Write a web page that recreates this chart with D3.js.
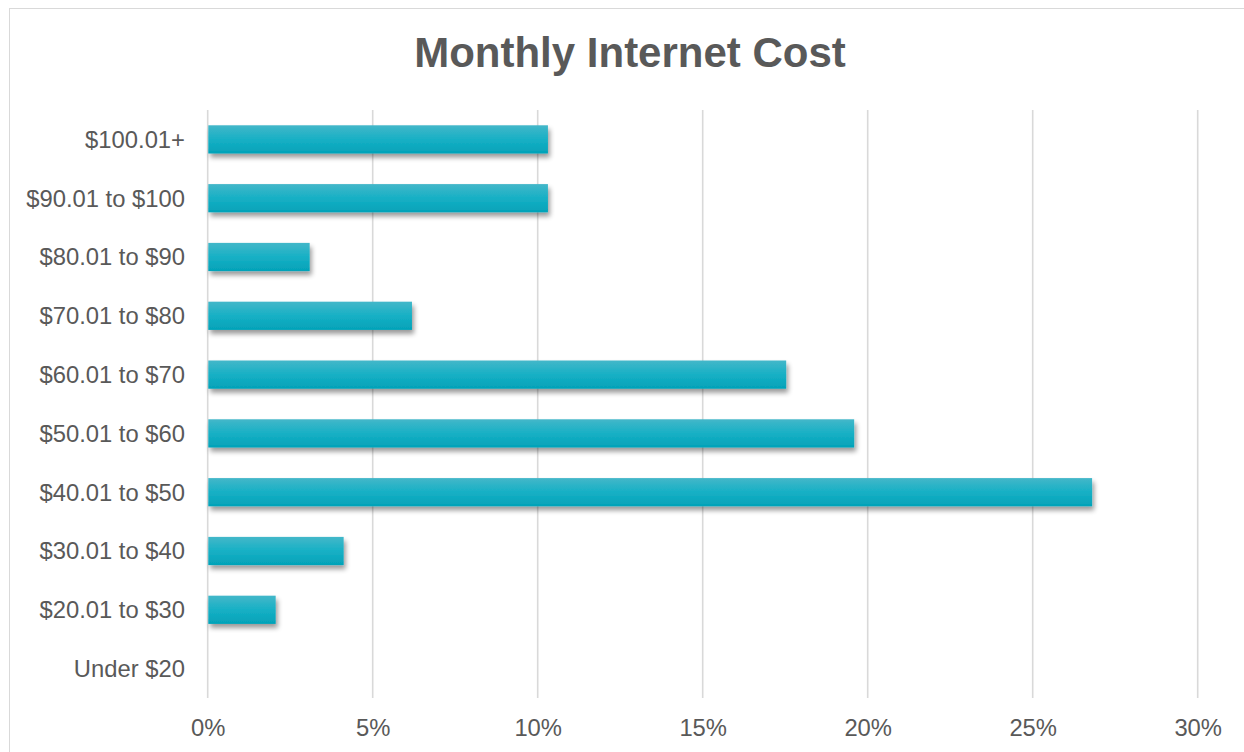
<!DOCTYPE html>
<html>
<head>
<meta charset="utf-8">
<script src="https://cdn.jsdelivr.net/npm/d3@7"></script>
<style>
  html, body { margin: 0; padding: 0; background: #fff; }
  svg, svg text { font-family: "Liberation Sans", Arimo, Arial, sans-serif; }
  svg { display: block; }
</style>
</head>
<body>
<svg id="chart" width="1244" height="752"></svg>
<script>
// Share of respondents by monthly internet bill (top to bottom)
const categories = [
  "$100.01+", "$90.01 to $100", "$80.01 to $90", "$70.01 to $80",
  "$60.01 to $70", "$50.01 to $60", "$40.01 to $50", "$30.01 to $40",
  "$20.01 to $30", "Under $20"
];
const shares = [10.31, 10.31, 3.09, 6.19, 17.53, 19.59, 26.80, 4.12, 2.06, 0];
const tickValues = [0, 5, 10, 15, 20, 25, 30];
const tickLabels = ["0%", "5%", "10%", "15%", "20%", "25%", "30%"];
const title = "Monthly Internet Cost";

const svg = d3.select("#chart");
const W = 1244, H = 752;
const plot = { left: 207.7, right: 1197.7, top: 110, bottom: 698 };
const textColor = "#595959";
const fontStack = "'Liberation Sans', Arimo, Arial, sans-serif";

// chart frame
svg.append("rect")
  .attr("x", 9.5).attr("y", 8.5)
  .attr("width", W + 10).attr("height", H + 10)
  .attr("fill", "#fff").attr("stroke", "#d9d9d9").attr("stroke-width", 1);

const defs = svg.append("defs");
const grad = defs.append("linearGradient")
  .attr("id", "barFill").attr("x1", 0).attr("y1", 0).attr("x2", 0).attr("y2", 1);
grad.append("stop").attr("offset", "0%").attr("stop-color", "#43b7c9");
grad.append("stop").attr("offset", "50%").attr("stop-color", "#17b0c5");
grad.append("stop").attr("offset", "100%").attr("stop-color", "#03a2b8");

const shadow = defs.append("filter").attr("id", "barShadow")
  .attr("x", "-10%").attr("y", "-40%").attr("width", "130%").attr("height", "200%");
shadow.append("feGaussianBlur").attr("in", "SourceAlpha").attr("stdDeviation", 2.8).attr("result", "b");
shadow.append("feOffset").attr("in", "b").attr("dx", 2).attr("dy", 3.5).attr("result", "o");
shadow.append("feComponentTransfer").attr("in", "o").attr("result", "s")
  .append("feFuncA").attr("type", "linear").attr("slope", 0.4);
const merge = shadow.append("feMerge");
merge.append("feMergeNode").attr("in", "s");
merge.append("feMergeNode").attr("in", "SourceGraphic");

const x = d3.scaleLinear().domain([0, 30]).range([plot.left, plot.right]);
const y = d3.scaleBand().domain(categories).range([plot.top, plot.bottom]).paddingInner(0.52).paddingOuter(0.26);

// title
svg.append("text")
  .attr("x", 630).attr("y", 67)
  .attr("text-anchor", "middle")
  .attr("font-family", fontStack)
  .attr("font-size", 42).attr("font-weight", "bold")
  .attr("fill", textColor)
  .text(title);

// vertical gridlines
svg.append("g")
  .selectAll("line").data(tickValues).join("line")
  .attr("x1", d => x(d)).attr("x2", d => x(d))
  .attr("y1", plot.top).attr("y2", plot.bottom)
  .attr("stroke", "#d9d9d9").attr("stroke-width", 1.6);

// x axis labels
const xAxis = d3.axisBottom(x).tickValues(tickValues)
  .tickFormat((d, i) => tickLabels[i]).tickSize(0).tickPadding(0);
const gx = svg.append("g").attr("transform", `translate(0, ${plot.bottom})`).call(xAxis)
  .attr("font-family", fontStack);
gx.select(".domain").remove();
gx.selectAll("text")
  .attr("y", 0).attr("dy", 0)
  .attr("transform", "translate(0, 38)")
  .attr("font-size", 23.8).attr("fill", textColor);

// y axis labels
const yAxis = d3.axisLeft(y).tickSize(0).tickPadding(0);
const gy = svg.append("g").attr("transform", `translate(185, 0)`).call(yAxis)
  .attr("font-family", fontStack);
gy.select(".domain").remove();
gy.selectAll("text")
  .attr("x", 0).attr("dy", "0.35em")
  .attr("font-size", 23.8).attr("fill", textColor);

// bars
svg.append("g")
  .selectAll("rect").data(categories.map((c, i) => ({ c, v: shares[i] })).filter(d => d.v > 0)).join("rect")
  .attr("x", x(0) + 0.6)
  .attr("y", d => y(d.c))
  .attr("width", d => x(d.v) - x(0) - 0.6)
  .attr("height", y.bandwidth())
  .attr("fill", "url(#barFill)")
  .attr("filter", "url(#barShadow)");
</script>
</body>
</html>
